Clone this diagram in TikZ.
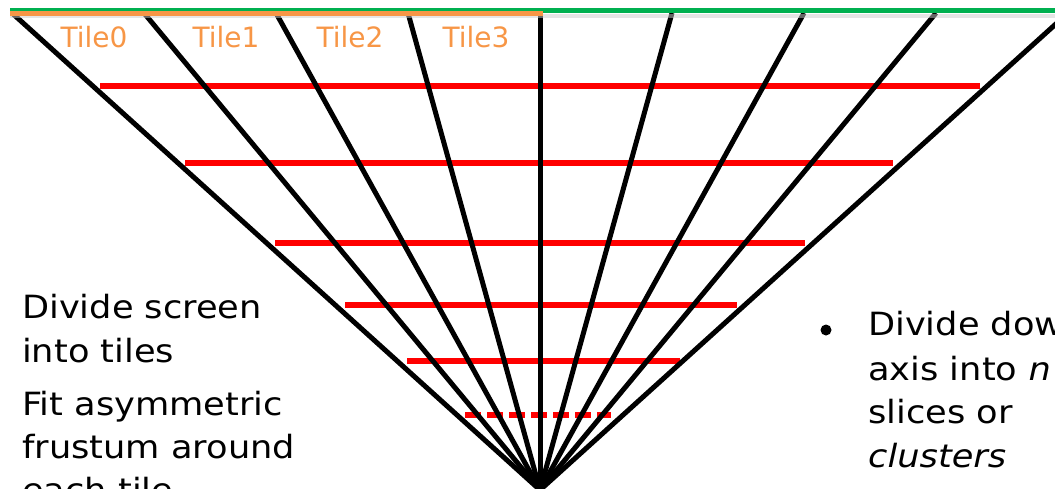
\documentclass[tikz,border=0pt]{standalone}
\usepackage{fontspec}
\setmainfont{DejaVu Sans}
\newfontfamily\bodyfont{DejaVu Sans}[FakeStretch=1.1]
\definecolor{tileorange}{HTML}{F79646}
\definecolor{screengreen}{HTML}{00B050}
\begin{document}
\begin{tikzpicture}[x=1pt,y=-1pt,
  ray/.style={line width=5pt, black},
  slice/.style={line width=5.5pt, red},
  dashslice/.style={slice, dash pattern=on 16pt off 6pt},
  tilelabel/.style={anchor=base, text=tileorange, inner sep=0pt,
    font=\fontsize{28}{34}\selectfont},
  bodyline/.style={anchor=base west, inner sep=0pt,
    font=\bodyfont\fontsize{32}{38}\selectfont}]
\useasboundingbox (0,0) rectangle (1055,488);
\clip (0,0) rectangle (1055,488);

% depth slices
\draw[slice] (100,86) -- (980,86);
\draw[slice] (185,163) -- (893,163);
\draw[slice] (275,243) -- (805,243);
\draw[slice] (345,305) -- (737,305);
\draw[slice] (407,361) -- (680,361);
\draw[dashslice] (465,415) -- (611,415);

% frustum rays from the eye to the screen tile borders
\coordinate (apex) at (540,490);
\foreach \i in {0,...,8} {
  \coordinate (top\i) at ({12+132*\i},13);
  \draw[ray] (apex) -- (top\i);
}

% screen line with its tiled part
\draw[line width=4pt, black!20, opacity=0.5] (10,16) -- (1055,16);
\draw[line width=5pt, screengreen] (10,10.5) -- (1055,10.5);
\draw[line width=5pt, tileorange] (10,13) -- (543,13);

% tile labels
\node[tilelabel] (t0) at (94,47) {Tile0};
\node[tilelabel] (t1) at (226,47) {Tile1};
\node[tilelabel] (t2) at (350,47) {Tile2};
\node[tilelabel] (t3) at (476,47) {Tile3};

% left text
\node[bodyline] (l1) at (22,318) {Divide screen};
\node[bodyline] (l2) at (22,362) {into tiles};
\node[bodyline] (l3) at (22,415) {Fit asymmetric};
\node[bodyline] (l4) at (22,458) {frustum around};
\node[bodyline] (l5) at (22,501) {each tile};

% right text
\fill (826,330) circle (5.5pt);
\node[bodyline] (r1) at (868,335) {Divide dow};
\node[bodyline] (r2) at (868,380) {axis into \textit{n}};
\node[bodyline] (r3) at (868,423) {slices or};
\node[bodyline] (r4) at (868,467) {\textit{clusters}};
\end{tikzpicture}
\end{document}
